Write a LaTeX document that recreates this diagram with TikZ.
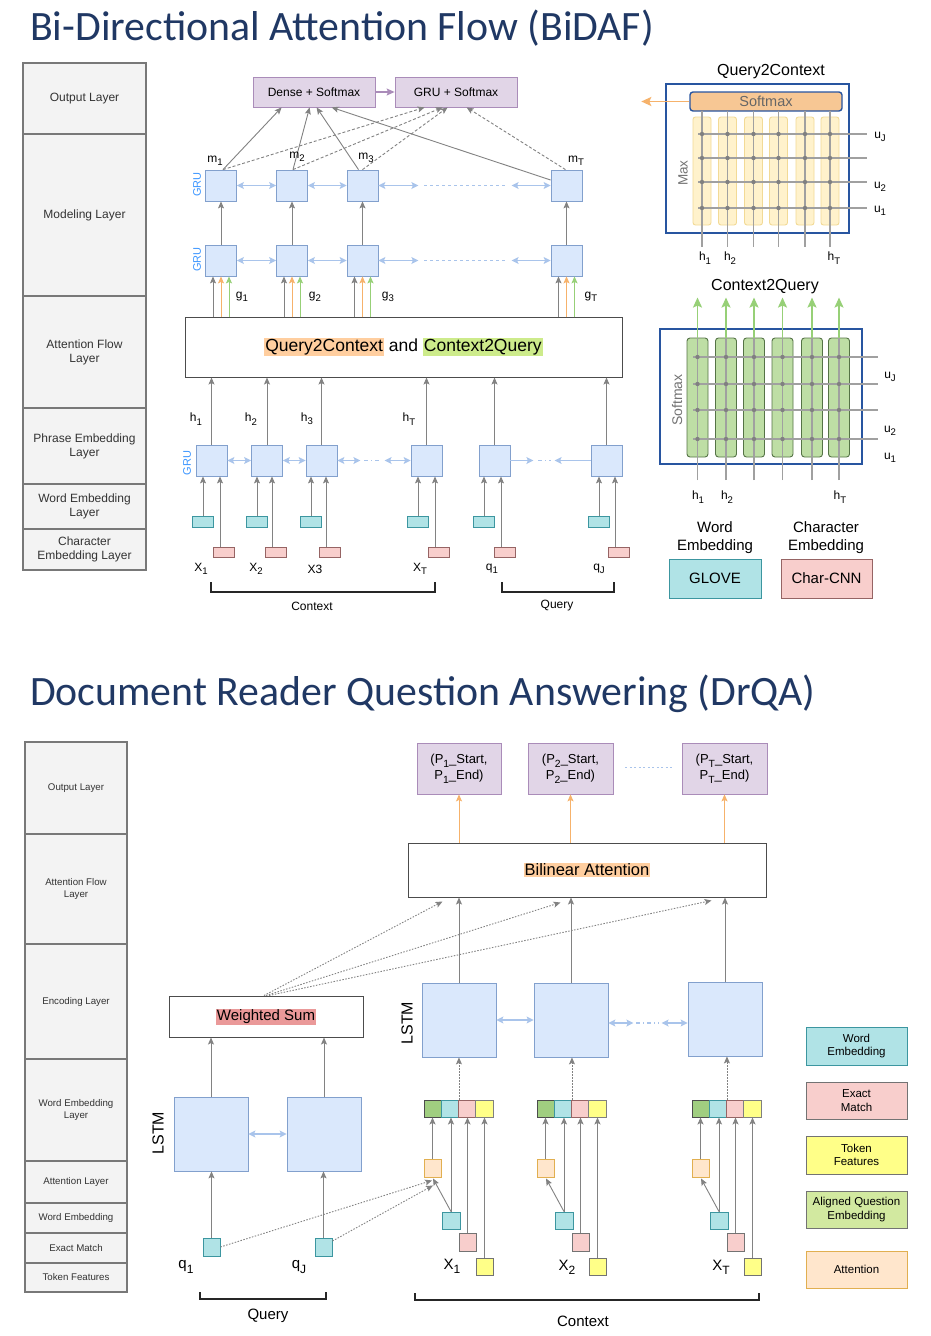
\documentclass[tikz,border=0pt]{standalone}
\usepackage{fontspec}
\setmainfont{Liberation Sans}
\newfontfamily\titlefont{Carlito}
\usetikzlibrary{arrows.meta,calc}
\newcommand\fsz[2]{\fontsize{#1}{#2}\selectfont}
\newcommand\sbs[1]{\raisebox{-0.28em}{\scalebox{0.8}{#1}}}
\setlength{\fboxsep}{1pt}
\definecolor{navy}{RGB}{32,56,100}
\definecolor{laygray}{RGB}{243,243,243}
\definecolor{layline}{RGB}{120,120,120}
\definecolor{gfill}{RGB}{218,232,252}
\definecolor{gline}{RGB}{130,160,205}
\definecolor{lblue}{RGB}{169,196,235}
\definecolor{grublue}{RGB}{60,150,255}
\definecolor{pfill}{RGB}{225,213,231}
\definecolor{pline}{RGB}{170,140,185}
\definecolor{arrgray}{RGB}{130,130,130}
\definecolor{orarr}{RGB}{246,178,107}
\definecolor{grarr}{RGB}{151,208,119}
\definecolor{tfill}{RGB}{176,227,230}
\definecolor{tline}{RGB}{60,150,160}
\definecolor{pkfill}{RGB}{248,206,204}
\definecolor{pkline}{RGB}{150,100,100}
\definecolor{yfill}{RGB}{255,255,136}
\definecolor{gcell}{RGB}{160,206,128}
\definecolor{afill}{RGB}{255,230,204}
\definecolor{aline}{RGB}{225,175,80}
\definecolor{dblue}{RGB}{40,85,160}
\definecolor{smfill}{RGB}{247,199,148}
\definecolor{colfill}{RGB}{255,242,204}
\definecolor{colline}{RGB}{242,218,150}
\definecolor{c2qfill}{RGB}{190,222,165}
\definecolor{c2qline}{RGB}{85,115,70}
\definecolor{hlor}{RGB}{255,206,159}
\definecolor{hlgr}{RGB}{205,235,139}
\definecolor{hlred}{RGB}{234,153,153}
\definecolor{lgreen}{RGB}{210,233,160}
\definecolor{gridg}{RGB}{160,160,160}
\tikzset{
  lay/.style={draw=layline, fill=laygray, line width=1.3pt, align=center, text=black!80, font=\fsz{12}{14}},
  layb/.style={lay, font=\fsz{9.7}{11.5}},
  gru/.style={draw=gline, fill=gfill, line width=0.8pt, minimum width=31pt, minimum height=31pt},
  lstm/.style={gru, minimum width=74pt, minimum height=74pt},
  outbox/.style={draw=pline, fill=pfill, line width=0.8pt, align=center},
  lbl/.style={font=\fsz{12}{14}},
  lblb/.style={font=\fsz{15}{18}},
  garr/.style={draw=arrgray, line width=0.9pt, -{Stealth[length=7pt,width=6pt,inset=1.5pt]}},
  gdash/.style={garr, dash pattern=on 3pt off 2pt},
  gdot/.style={garr, dash pattern=on 1.5pt off 1.5pt},
  barr/.style={draw=lblue, line width=1.1pt, {Stealth[length=7pt,width=7pt,inset=1.5pt]}-{Stealth[length=7pt,width=7pt,inset=1.5pt]}},
  bone/.style={draw=lblue, line width=1.1pt, -{Stealth[length=7pt,width=7pt,inset=1.5pt]}},
  bdots/.style={draw=lblue, line width=1.1pt, dash pattern=on 3pt off 3pt},
  bdashdot/.style={draw=lblue, line width=1.1pt, dash pattern=on 4pt off 3pt on 1pt off 3pt},
  oarr/.style={draw=orarr, line width=1pt, -{Stealth[length=7pt,width=6pt,inset=1.5pt]}},
  grarrs/.style={draw=grarr, line width=1pt, -{Stealth[length=7pt,width=6pt,inset=1.5pt]}},
  tbox/.style={draw=tline, fill=tfill, line width=0.8pt, minimum width=21pt, minimum height=11pt},
  pbox/.style={draw=pkline, fill=pkfill, line width=0.8pt, minimum width=21pt, minimum height=10pt},
  brk/.style={draw=black!85, line width=1.4pt},
  gridl/.style={draw=gridg, line width=1.3pt},
  panel/.style={draw=dblue, line width=1.6pt, fill=white},
  cell/.style={line width=0.9pt, minimum width=17.25pt, minimum height=17pt},
  legb/.style={line width=1pt, minimum width=101pt, align=center, font=\fsz{11.5}{13.5}},
  ttl/.style={anchor=base west, font=\titlefont\fsz{41.8}{48}, text=navy}
}
\begin{document}
\begin{tikzpicture}[x=1pt,y=-1pt, every node/.style={inner sep=0pt}]
\useasboundingbox[fill=white] (0,0) rectangle (930,1336);

% ================= BiDAF =================
\node[ttl] (title1) at (30,40) {Bi-Directional Attention Flow (BiDAF)};

\node[lay, minimum width=123pt, minimum height=71pt] (l1) at (84.5,98.5) {Output Layer};
\node[lay, minimum width=123pt, minimum height=162pt] (l2) at (84.5,215) {Modeling Layer};
\node[lay, minimum width=123pt, minimum height=112pt] (l3) at (84.5,352) {Attention Flow\\Layer};
\node[lay, minimum width=123pt, minimum height=76pt] (l4) at (84.5,446) {Phrase Embedding\\Layer};
\node[lay, minimum width=123pt, minimum height=45pt] (l5) at (84.5,506.5) {Word Embedding\\Layer};
\node[lay, minimum width=123pt, minimum height=41pt] (l6) at (84.5,549.5) {Character\\Embedding Layer};

\node[outbox, minimum width=122pt, minimum height=30pt, font=\fsz{12}{14}] (dense) at (314,92) {Dense + Softmax};
\node[outbox, minimum width=122pt, minimum height=30pt, font=\fsz{12}{14}] (grus) at (456,92) {GRU + Softmax};
\draw[draw=pline, line width=1.2pt, -{Stealth[length=8pt,width=7pt,inset=1.5pt]}] (dense) -- (grus);

\node[draw=black!70, line width=1pt, fill=white, minimum width=437pt, minimum height=60pt, font=\fsz{17.5}{20}] (att) at (403.5,347) {\colorbox{hlor}{Query2Context} and \colorbox{hlgr}{Context2Query}};

\foreach \n/\x in {1/221,2/292,3/362.5,4/566.5}{
  \node[gru] (mo\n) at (\x,185.5) {};
  \node[gru] (mi\n) at (\x,260.5) {};
  \draw[garr] (mi\n.north) -- (mo\n.south);
  \draw[garr] ($(mi\n.south)+(-8,41)$) -- ($(mi\n.south)+(-8,0)$);
  \draw[oarr] ($(mi\n.south)+(0,41)$) -- (mi\n.south);
  \draw[grarrs] ($(mi\n.south)+(8,41)$) -- ($(mi\n.south)+(8,0)$);
}
\foreach \r in {mo,mi}{
  \draw[barr] (\r1.east) -- (\r2.west);
  \draw[barr] (\r2.east) -- (\r3.west);
  \draw[barr] (\r3.east) -- ($(\r3.east)+(40,0)$);
  \draw[bdots] ($(\r3.east)+(46,0)$) -- ($(\r4.west)+(-46,0)$);
  \draw[barr] ($(\r4.west)+(-39,0)$) -- (\r4.west);
}
\node[rotate=90, text=grublue, font=\fsz{11}{13}] (grul1) at (197,184.5) {GRU};
\node[rotate=90, text=grublue, font=\fsz{11}{13}] (grul2) at (197,259.5) {GRU};

% output connectors
\draw[garr] ($(mo1.north)+(2,0)$) -- ($(dense.south west)+(29,0)$);
\draw[garr] ($(mo2.north)+(1,0)$) -- ($(dense.south west)+(57,0)$);
\draw[garr] ($(mo3.north)+(-4,0)$) -- ($(dense.south west)+(64,0)$);
\draw[garr] ($(mo4.west)+(0,-5.5)$) -- ($(dense.south west)+(79,0)$);
\draw[gdash] ($(mo1.north)+(2,0)$) -- ($(grus.south west)+(30,0)$);
\draw[gdash] ($(mo2.north)+(1,0)$) -- ($(grus.south west)+(48,0)$);
\draw[gdash] (mo3.north) -- ($(grus.south west)+(53,0)$);
\draw[gdash] ($(mo4.north)+(-1,0)$) -- ($(grus.south west)+(72,0)$);

\node[lbl] (lm1) at (215,161) {m\sbs{1}};
\node[lbl] (lm2) at (297,157) {m\sbs{2}};
\node[lbl] (lm3) at (366,158) {m\sbs{3}};
\node[lbl] (lmT) at (576,161) {m\sbs{T}};
\node[lbl] (lg1) at (242,297) {g\sbs{1}};
\node[lbl] (lg2) at (315,297) {g\sbs{2}};
\node[lbl] (lg3) at (388,297) {g\sbs{3}};
\node[lbl] (lgT) at (591,297) {g\sbs{T}};

% phrase embedding layer
\foreach \n/\x/\al/\ar in {1/211.5/203/220,2/267/257/272,3/321.5/311/326,4/426.5/418/435,5/494.5/484/501,6/606.5/599/615}{
  \node[gru] (p\n) at (\x,460.5) {};
  \draw[garr] (p\n.north) -- (p\n.north |- att.south);
  \node[tbox] (te\n) at (\al,521.5) {};
  \node[pbox] (pk\n) at (\ar+3.5,552) {};
  \coordinate (pka\n) at (\ar,547);
  \draw[garr] (te\n.north) -- (te\n.north |- p\n.south);
  \draw[garr] (pka\n) -- (pka\n |- p\n.south);
}
\draw[barr] (p1.east) -- (p2.west);
\draw[barr] (p2.east) -- (p3.west);
\draw[barr] (p3.east) -- ($(p3.east)+(23,0)$);
\draw[bdashdot] ($(p3.east)+(27,0)$) -- ($(p4.west)+(-29,0)$);
\draw[barr] ($(p4.west)+(-26,0)$) -- (p4.west);
\draw[bone] (p5.east) -- ($(p5.east)+(23,0)$);
\draw[bdashdot] ($(p5.east)+(28,0)$) -- ($(p6.west)+(-40,0)$);
\draw[bone] (p6.west) -- ($(p6.west)+(-36,0)$);
\node[rotate=90, text=grublue, font=\fsz{11}{13}] (grul3) at (187,463) {GRU};

\node[lbl] (lh1) at (196,419) {h\sbs{1}};
\node[lbl] (lh2) at (251,419) {h\sbs{2}};
\node[lbl] (lh3) at (307,419) {h\sbs{3}};
\node[lbl] (lhT) at (409,419) {h\sbs{T}};
\node[lbl] (lx1) at (201,569) {X\sbs{1}};
\node[lbl] (lx2) at (256,569) {X\sbs{2}};
\node[lbl] (lx3) at (315,569) {X3};
\node[lbl] (lxT) at (420,569) {X\sbs{T}};
\node[lbl] (lq1) at (492,569) {q\sbs{1}};
\node[lbl] (lqJ) at (599,569) {q\sbs{J}};

\coordinate (cb1) at (211,582);
\coordinate (cb2) at (435,582);
\draw[brk] (cb1) -- ++(0,10) -| (cb2);
\node[font=\fsz{12}{14}] (ctx1) at (312,606) {Context};
\coordinate (qb1) at (502,582);
\coordinate (qb2) at (614,582);
\draw[brk] (qb1) -- ++(0,10) -| (qb2);
\node[font=\fsz{12}{14}] (qry1) at (557,606) {Query};

% ---- Query2Context panel
\node[font=\fsz{16}{19}] (q2ct) at (771,72) {Query2Context};
\node[panel, minimum width=183pt, minimum height=149pt] (q2c) at (757.5,158.5) {};
\foreach \c/\x in {1/702,2/727.5,3/753.5,4/778.5,5/805,6/830}{
  \node[draw=colline, fill=colfill, line width=0.9pt, rounded corners=2.5pt, minimum width=18pt, minimum height=108pt] (qc\c) at (\x,171) {};
}
\node[draw=dblue, line width=1.4pt, fill=smfill, rounded corners=3pt, minimum width=152pt, minimum height=19pt, text=black!60, font=\fsz{14.5}{16}] (qsm) at (766,101.5) {Softmax};
\foreach \x in {702,727.5,753.5,778.5,805,830}{
  \draw[gridl] (\x,111) -- (\x,247);
}
\foreach \y in {134,158,182,208}{
  \draw[gridl] (698,\y) -- (867,\y);
}
\foreach \x in {702,727.5,753.5,778.5,805,830}{
  \foreach \y in {134,158,182,208}{
    \fill[black!50] (\x,\y) circle (2.2pt);
  }
}
\draw[draw=orarr, line width=1.8pt, -{Stealth[length=10pt,width=9pt,inset=2pt]}] (qsm.west) -- ($(qsm.west)+(-48,0)$);
\node[rotate=90, text=black!55, font=\fsz{13.5}{16}] (qmax) at (683,173) {Max};
\node[lbl] (qu3) at (880,137) {u\sbs{J}};
\node[lbl] (qu2) at (880,187) {u\sbs{2}};
\node[lbl] (qu1) at (880,211) {u\sbs{1}};
\node[lbl] (qh1) at (705,258) {h\sbs{1}};
\node[lbl] (qh2) at (730,258) {h\sbs{2}};
\node[lbl] (qhT) at (834,258) {h\sbs{T}};

% ---- Context2Query panel
\node[font=\fsz{16}{19}] (c2qt) at (765,287) {Context2Query};
\node[panel, minimum width=202pt, minimum height=135pt] (c2q) at (761,396.5) {};
\foreach \c/\x in {1/697.5,2/726,3/754,4/782.5,5/812,6/839}{
  \node[draw=c2qline, fill=c2qfill, line width=0.9pt, rounded corners=3pt, minimum width=21pt, minimum height=119pt] (cc\c) at (\x,397.5) {};
}
\foreach \x in {697.5,726,754,782.5,812,839}{
  \draw[gridl] (\x,480) -- (\x,338);
}
\foreach \y in {357,384,410,439}{
  \draw[gridl] (693,\y) -- (878,\y);
}
\foreach \x in {697.5,726,754,782.5,812,839}{
  \foreach \y in {357,384,410,439}{
    \fill[black!50] (\x,\y) circle (2.2pt);
  }
}
\foreach \c in {1,...,6}{
  \draw[draw=grarr, line width=1.8pt, -{Stealth[length=10pt,width=9pt,inset=2pt]}] (cc\c.north) -- ($(cc\c.north)+(0,-40)$);
}
\node[rotate=90, text=black!55, font=\fsz{14}{16}] (csm) at (677,400) {Softmax};
\node[lbl] (cu3) at (890,377) {u\sbs{J}};
\node[lbl] (cu2) at (890,431) {u\sbs{2}};
\node[lbl] (cu1) at (890,458) {u\sbs{1}};
\node[lbl] (ch1) at (698,497) {h\sbs{1}};
\node[lbl] (ch2) at (727,497) {h\sbs{2}};
\node[lbl] (chT) at (840,497) {h\sbs{T}};

\node[font=\fsz{15}{18}, align=center] (lwe) at (715,538) {Word\\Embedding};
\node[font=\fsz{15}{18}, align=center] (lce) at (826,538) {Character\\Embedding};
\node[draw=tline, fill=tfill, line width=1pt, minimum width=92pt, minimum height=39pt, font=\fsz{15}{18}] (glove) at (715,578.5) {GLOVE};
\node[draw=pkline, fill=pkfill, line width=1pt, minimum width=91pt, minimum height=39pt, font=\fsz{15}{18}] (ccnn) at (826.5,578.5) {Char-CNN};

% ================= DrQA =================
\node[ttl] (title2) at (30,705) {Document Reader Question Answering (DrQA)};

\node[layb, minimum width=102pt, minimum height=92pt] (b1) at (76,788) {Output Layer};
\node[layb, minimum width=102pt, minimum height=110pt] (b2) at (76,889) {Attention Flow\\Layer};
\node[layb, minimum width=102pt, minimum height=115pt] (b3) at (76,1001.5) {Encoding Layer};
\node[layb, minimum width=102pt, minimum height=102pt] (b4) at (76,1110) {Word Embedding\\Layer};
\node[layb, minimum width=102pt, minimum height=42pt] (b5) at (76,1182) {Attention Layer};
\node[layb, minimum width=102pt, minimum height=30pt] (b6) at (76,1218) {Word Embedding};
\node[layb, minimum width=102pt, minimum height=30pt] (b7) at (76,1248) {Exact Match};
\node[layb, minimum width=102pt, minimum height=29pt] (b8) at (76,1277.5) {Token Features};

\node[outbox, minimum width=84pt, minimum height=51pt, font=\fsz{13}{16}] (P1) at (459,768.5) {(P\sbs{1}\_Start,\\P\sbs{1}\_End)};
\node[outbox, minimum width=85pt, minimum height=51pt, font=\fsz{13}{16}] (P2) at (570.5,768.5) {(P\sbs{2}\_Start,\\P\sbs{2}\_End)};
\node[outbox, minimum width=85pt, minimum height=51pt, font=\fsz{13}{16}] (PT) at (724.5,768.5) {(P\sbs{T}\_Start,\\P\sbs{T}\_End)};
\draw[draw=lblue, line width=1pt, dash pattern=on 2pt off 2.5pt] ($(P2.east)+(12,-1.5)$) -- ($(PT.west)+(-9,-1.5)$);

\node[draw=black!70, line width=1pt, fill=white, minimum width=358pt, minimum height=54pt, font=\fsz{16.5}{19}] (bil) at (587,870) {\colorbox{hlor}{Bilinear Attention}};
\foreach \p in {P1,P2,PT}{
  \draw[oarr] (\p.south |- bil.north) -- (\p.south);
}

\node[lstm] (c1) at (459,1020) {};
\node[lstm] (c2) at (571,1020) {};
\node[lstm] (c3) at (725,1019) {};
\foreach \c in {1,2,3}{
  \draw[garr] (c\c.north) -- (c\c.north |- bil.south);
}
\draw[barr] (c1.east) -- (c2.west);
\draw[barr] ($(c2.east)+(0,3)$) -- ($(c2.east)+(25,3)$);
\draw[bdashdot] ($(c2.east)+(28,3)$) -- ($(c3.west)+(-29,4)$);
\draw[barr] ($(c3.west)+(-26,4)$) -- ($(c3.west)+(0,4)$);
\node[rotate=90, font=\fsz{16}{19}] (lstm2) at (407,1023) {LSTM};

\node[draw=black!70, line width=1pt, fill=white, minimum width=194pt, minimum height=41pt, font=\fsz{15}{18}] (ws) at (266,1016.5) {\colorbox{hlred}{Weighted Sum}};
\draw[gdot] ($(ws.north)+(-2,0)$) -- ($(bil.south west)+(35,4)$);
\draw[gdot] (ws.north) -- ($(bil.south west)+(153,5)$);
\draw[gdot] ($(ws.north)+(3,0)$) -- ($(bil.south west)+(304,3)$);

\node[lstm] (ql1) at (211,1134) {};
\node[lstm] (ql2) at (324,1134) {};
\draw[barr] (ql1.east) -- (ql2.west);
\draw[garr] (ql1.north) -- (ql1.north |- ws.south);
\draw[garr] (ql2.north) -- (ql2.north |- ws.south);
\node[rotate=90, font=\fsz{16}{19}] (lstm1) at (158,1133) {LSTM};

\node[draw=tline, fill=tfill, line width=0.8pt, minimum width=17pt, minimum height=18pt] (qq1) at (211.5,1247) {};
\node[draw=tline, fill=tfill, line width=0.8pt, minimum width=17pt, minimum height=18pt] (qq2) at (323.5,1247) {};
\draw[garr] (qq1.north) -- (qq1.north |- ql1.south);
\draw[garr] (qq2.north) -- (qq2.north |- ql2.south);
\node[lblb] (lbq1) at (186,1267) {q\sbs{1}};
\node[lblb] (lbqJ) at (299,1267) {q\sbs{J}};

\foreach \g/\s in {1/424,2/537,3/692}{
  \node[cell, draw=black!70, fill=gcell] (va\g) at (\s+8.625,1108.5) {};
  \node[cell, draw=tline, fill=tfill] (vb\g) at (\s+25.875,1108.5) {};
  \node[cell, draw=pkline, fill=pkfill] (vc\g) at (\s+43.125,1108.5) {};
  \node[cell, draw=black!50, fill=yfill] (vd\g) at (\s+60.375,1108.5) {};
  \node[draw=aline, fill=afill, line width=0.9pt, minimum width=17pt, minimum height=18pt] (at\g) at (\s+8.5,1168) {};
  \node[draw=tline, fill=tfill, line width=0.9pt, minimum width=18pt, minimum height=17pt] (te2\g) at (\s+27,1220.5) {};
  \node[draw=black!55, fill=pkfill, line width=0.9pt, minimum width=17pt, minimum height=18pt] (pk2\g) at (\s+43.5,1242) {};
  \node[draw=black!55, fill=yfill, line width=0.9pt, minimum width=17pt, minimum height=17pt] (yt\g) at (\s+60.5,1266.5) {};
  \draw[garr] (at\g.north) -- (at\g.north |- va\g.south);
  \draw[garr] (te2\g.north) -- (te2\g.north |- vb\g.south);
  \draw[garr] (pk2\g.north) -- (pk2\g.north |- vc\g.south);
  \draw[garr] (yt\g.north) -- (yt\g.north |- vd\g.south);
  \draw[garr] (te2\g.north) -- ($(at\g.south)+(0.5,1)$);
  \draw[gdot] (vb\g.north east) -- (vb\g.north east |- c\g.south);
}
\draw[gdot] (qq1.east) -- ($(at1.south)+(-0.5,3)$);
\draw[gdot] ($(qq2.east)+(0,-6)$) -- ($(at1.south)+(0.5,8)$);

\node[lblb] (lbx1) at (452,1266) {X\sbs{1}};
\node[lblb] (lbx2) at (567,1267) {X\sbs{2}};
\node[lblb] (lbxT) at (721,1267) {X\sbs{T}};

\coordinate (bq1) at (200,1292);
\coordinate (bq2) at (326,1292);
\draw[brk] (bq1) -- ++(0,7) -| (bq2);
\node[font=\fsz{15}{18}] (qry2) at (268,1316) {Query};
\coordinate (bc1) at (415,1293);
\coordinate (bc2) at (759,1293);
\draw[brk] (bc1) -- ++(0,7) -| (bc2);
\node[font=\fsz{15}{18}] (ctx2) at (583,1321) {Context};

\node[legb, draw=tline, fill=tfill, minimum height=38pt] (lg1) at (856.5,1046) {Word\\Embedding};
\node[legb, draw=black!55, fill=pkfill, minimum height=37pt] (lg2) at (856.5,1100.5) {Exact\\Match};
\node[legb, draw=black!55, fill=yfill, minimum height=38pt] (lg3) at (856.5,1155) {Token\\Features};
\node[legb, draw=black!55, fill=lgreen, minimum height=37pt] (lg4) at (856.5,1209.5) {Aligned Question\\Embedding};
\node[legb, draw=aline, fill=afill, minimum height=37pt] (lg5) at (856.5,1269.5) {Attention};
\end{tikzpicture}
\end{document}
